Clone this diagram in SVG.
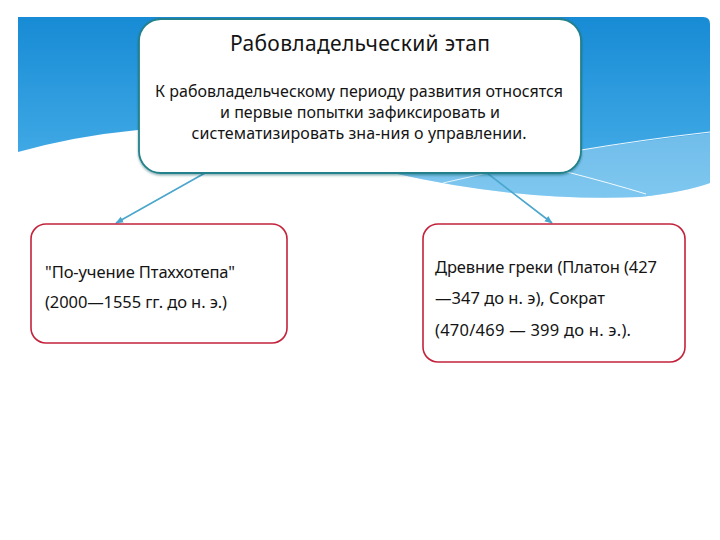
<svg xmlns="http://www.w3.org/2000/svg" width="720" height="540" viewBox="0 0 720 540">
  <defs>
    <linearGradient id="sky" x1="0" y1="0" x2="0" y2="1">
      <stop offset="0" stop-color="#178bd5"/>
      <stop offset="1" stop-color="#4db2ea"/>
    </linearGradient>
    <marker id="arr" viewBox="0 0 10 10" refX="9" refY="5" markerWidth="5" markerHeight="5" orient="auto-start-reverse">
      <path d="M0,1 L10,5 L0,9 z" fill="#4aa6cc"/>
    </marker>
    <filter id="sh" x="-5%" y="-5%" width="110%" height="115%">
      <feDropShadow dx="0" dy="1.5" stdDeviation="1" flood-color="#0d4f57" flood-opacity="0.45"/>
    </filter>
  </defs>
  <style>
    .t { font-family: "Noto Sans", "Open Sans", "DejaVu Sans", sans-serif; fill: #141414; }
    .main { fill: #ffffff; stroke: #23818a; stroke-width: 1.8; }
    .leaf { fill: #ffffff; stroke: #c4223b; stroke-width: 1.6; }
    .conn { stroke: #4aa6cc; stroke-width: 1.6; fill: none; }
  </style>
  <rect width="720" height="540" fill="#ffffff"/>
  <g id="background">
    <path d="M18,17 H703 Q710,17 710,24 V183 Q685,192 640,197 Q520,202 393,173 L300,150 L138,130 Q75,136 18,152 Z" fill="url(#sky)"/>
    <path d="M380,160 L581,150 Q650,140 710,133 V183 Q685,192 640,197 Q520,202 393,173 Z" fill="#ffffff" fill-opacity="0.28"/>
    <path d="M575,151 Q640,140 710,132" stroke="#ffffff" stroke-width="1.2" fill="none" opacity="0.9"/>
    <path d="M567,172 Q610,183 646,194" stroke="#ffffff" stroke-width="1" fill="none" opacity="0.9"/>
    <path d="M443,183 L487,173" stroke="#ffffff" stroke-width="1" fill="none" opacity="0.8"/>
  </g>
  <g id="connectors">
    <line class="conn" x1="205" y1="173" x2="116" y2="223" marker-end="url(#arr)"/>
    <line class="conn" x1="487" y1="173" x2="552" y2="223" marker-end="url(#arr)"/>
  </g>
  <g id="node-main">
    <rect class="main" x="139" y="19" width="442" height="154" rx="22" filter="url(#sh)"/>
    <text class="t" x="360" y="51" font-size="21" text-anchor="middle" textLength="260">Рабовладельческий этап</text>
    <text class="t" x="359" y="97" font-size="16" text-anchor="middle" textLength="408">К рабовладельческому периоду развития относятся</text>
    <text class="t" x="360" y="118" font-size="16" text-anchor="middle" textLength="280">и первые попытки зафиксировать и</text>
    <text class="t" x="359" y="139" font-size="16" text-anchor="middle" textLength="335">систематизировать зна-ния о управлении.</text>
  </g>
  <g id="node-left">
    <rect class="leaf" x="31" y="224" width="256" height="119" rx="15"/>
    <text class="t" x="45" y="278" font-size="16.5" textLength="190">"По-учение Птаххотепа"</text>
    <text class="t" x="45" y="308" font-size="16.5" textLength="182">(2000—1555 гг. до н. э.)</text>
  </g>
  <g id="node-right">
    <rect class="leaf" x="423" y="224" width="262" height="138" rx="15"/>
    <text class="t" x="435" y="273" font-size="16.5" textLength="222">Древние греки (Платон (427</text>
    <text class="t" x="435" y="304" font-size="16.5" textLength="170">—347 до н. э), Сократ</text>
    <text class="t" x="435" y="336" font-size="16.5" textLength="196">(470/469 — 399 до н. э.).</text>
  </g>
</svg>
